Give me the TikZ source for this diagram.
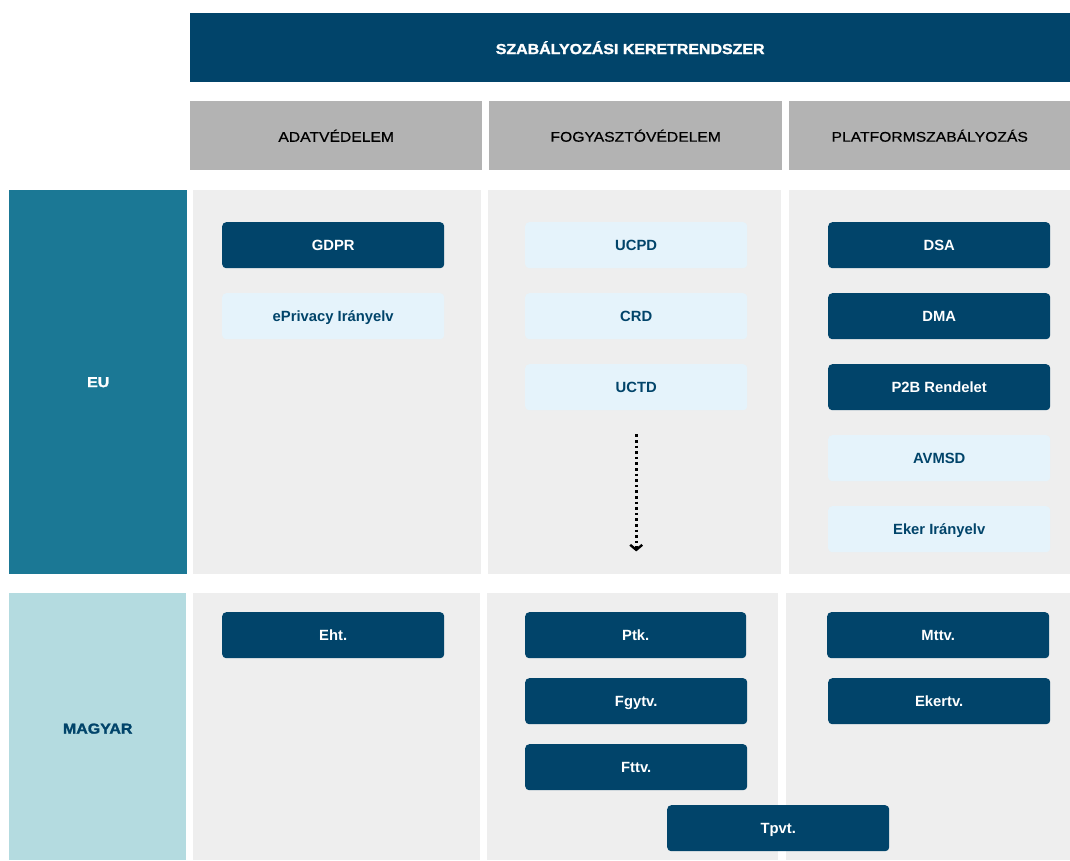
\documentclass[tikz,border=0pt]{standalone}
\usepackage{fontspec}
\setmainfont{Liberation Sans}
\newfontfamily\widefont[FakeStretch=1.1,FakeBold=1.6]{Liberation Sans}
\newfontfamily\colfont[FakeStretch=1.12,FakeBold=0.6]{Liberation Sans}
\usetikzlibrary{arrows.meta,calc}
\definecolor{navy}{RGB}{1,68,106}
\definecolor{teal}{RGB}{27,120,149}
\definecolor{paleteal}{RGB}{180,219,224}
\definecolor{headgrey}{RGB}{179,179,179}
\definecolor{cellgrey}{RGB}{238,238,238}
\definecolor{skyblue}{RGB}{229,243,251}
\begin{document}
\begin{tikzpicture}[x=1pt,y=-1pt,
  block/.style={draw=none, inner sep=0pt, anchor=north west},
  titlebar/.style={block, fill=navy, text=white,
    font=\widefont\bfseries\fontsize{14.5}{16}\selectfont},
  colhead/.style={block, fill=headgrey, text=black,
    font=\colfont\fontsize{14}{16}\selectfont},
  eulabel/.style={block, fill=teal, text=white,
    font=\widefont\bfseries\fontsize{14.5}{16}\selectfont},
  hulabel/.style={block, fill=paleteal, text=navy,
    font=\widefont\bfseries\fontsize{14.5}{16}\selectfont},
  cell/.style={block, fill=cellgrey},
  lawbox/.style={block, rounded corners=4pt, minimum width=222pt, minimum height=46pt,
    text height=10.6pt, text depth=0pt,
    font=\bfseries\fontsize{14.8}{17}\selectfont},
  darkbox/.style={lawbox, fill=navy, text=white},
  lightbox/.style={lawbox, fill=skyblue, text=navy},
  flow/.style={line width=2.6pt, dash pattern=on 2.6pt off 3pt,
    -{Straight Barb[length=5pt,width=12pt,line width=2.4pt]}}
]
\useasboundingbox[fill=white] (0,0) rectangle (1070,860);

% title bar and column headers
\node[titlebar, minimum width=880pt, minimum height=69pt] (title) at (190,13) {SZABÁLYOZÁSI KERETRENDSZER};
\node[colhead, minimum width=292pt, minimum height=69pt] (hdata) at (190,101) {ADATVÉDELEM};
\node[colhead, minimum width=293pt, minimum height=69pt] (hcons) at (489,101) {FOGYASZTÓVÉDELEM};
\node[colhead, minimum width=281pt, minimum height=69pt] (hplat) at (789,101) {PLATFORMSZABÁLYOZÁS};

% EU row
\node[eulabel, minimum width=178pt, minimum height=384pt] (eu) at (9,190) {EU};
\node[cell, minimum width=288pt, minimum height=384pt] (eudata) at (193,190) {};
\node[cell, minimum width=293pt, minimum height=384pt] (eucons) at (488,190) {};
\node[cell, minimum width=281pt, minimum height=384pt] (euplat) at (789,190) {};

% Hungarian row
\node[hulabel, minimum width=177pt, minimum height=267pt, text height=14pt] (hu) at (9,593) {MAGYAR};
\node[cell, minimum width=287pt, minimum height=267pt] (hudata) at (193,593) {};
\node[cell, minimum width=291pt, minimum height=267pt] (hucons) at (487,593) {};
\node[cell, minimum width=284pt, minimum height=267pt] (huplat) at (786,593) {};

% EU instruments
\node[darkbox] (gdpr) at (222,222) {GDPR};
\node[lightbox] (eprivacy) at (222,293) {ePrivacy Irányelv};
\node[lightbox] (ucpd) at (525,222) {UCPD};
\node[lightbox] (crd) at (525,293) {CRD};
\node[lightbox] (uctd) at (525,364) {UCTD};
\node[darkbox] (dsa) at (828,222) {DSA};
\node[darkbox] (dma) at (828,293) {DMA};
\node[darkbox] (p2b) at (828,364) {P2B Rendelet};
\node[lightbox] (avmsd) at (828,435) {AVMSD};
\node[lightbox] (eker) at (828,506) {Eker Irányelv};

% Hungarian acts
\node[darkbox] (eht) at (222,612) {Eht.};
\node[darkbox, minimum width=221pt] (ptk) at (525,612) {Ptk.};
\node[darkbox] (fgytv) at (525,678) {Fgytv.};
\node[darkbox] (fttv) at (525,744) {Fttv.};
\node[darkbox] (tpvt) at (667,805) {Tpvt.};
\node[darkbox] (mttv) at (827,612) {Mttv.};
\node[darkbox] (ekertv) at (828,678) {Ekertv.};

% transposition arrow
\coordinate (flowstart) at ($(uctd.south)+(0,24)$);
\coordinate (flowend) at ($(uctd.south)+(0,141)$);
\draw[flow] (flowstart) -- (flowend);
\end{tikzpicture}
\end{document}
